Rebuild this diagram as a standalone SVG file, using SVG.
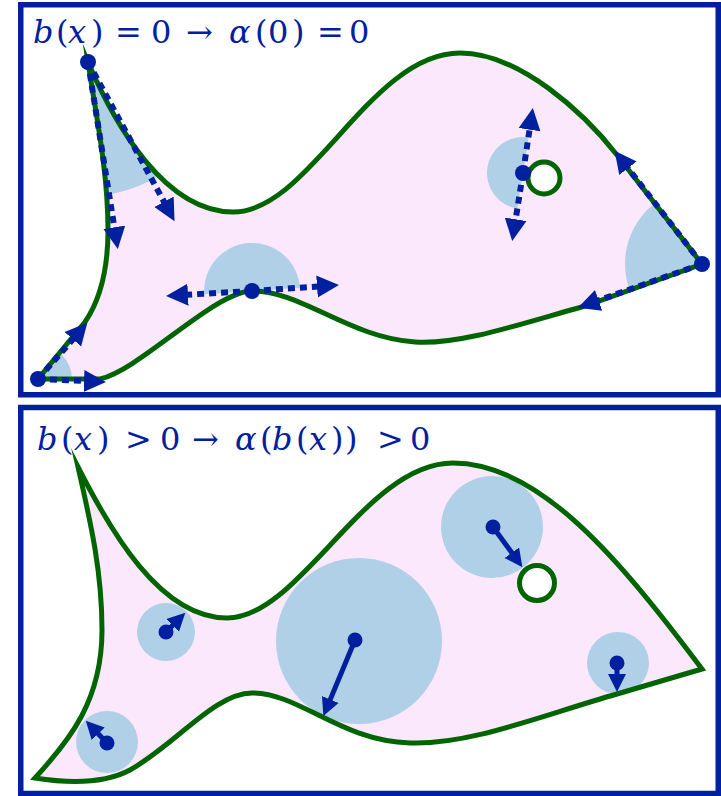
<svg xmlns="http://www.w3.org/2000/svg" width="721" height="796" viewBox="0 0 721 796">
<style>
.frame{fill:none;stroke:#0020A0;stroke-width:5.5}
.fish{fill:#FCE8FC;stroke:none}
.edge{fill:none;stroke:#006400;stroke-width:5;stroke-linejoin:miter;stroke-miterlimit:12}
.disc{fill:#B0D0E8}
.hole{fill:#ffffff;stroke:#006400;stroke-width:5}
.dot{fill:#0020A0}
.dash{fill:none;stroke:#0020A0;stroke-width:6;stroke-dasharray:7 5;marker-end:url(#hd)}
.solid{fill:none;stroke:#0020A0;stroke-width:5;marker-end:url(#hs)}
.t{font-family:"DejaVu Serif","Liberation Serif",serif;font-size:32px;fill:#0020A0}
.i{font-style:italic}
</style>
<defs>
<path id="fishA" d="M 88 62 C 115 125 165 212 233 212 C 310 212 370 53 460 53 C 520 53 585 114 617 155 L 702 264 L 585 306 C 520 324 460 345 415 342 C 350 338 300 290 252 291 C 215 291 140 370 100 379 L 38 379 L 85 322 C 100 300 108 270 108 230 C 108 170 95 110 88 62 Z"/>
<path id="fishB" d="M 78 467 C 110 530 160 618 227 618 C 300 618 365 463 453 463 C 540 463 620 560 702 669 L 617 694 C 540 716 470 745 410 743 C 340 741 300 693 252 693 C 215 693 175 745 130 770 C 100 786 60 782 35 778 C 70 740 102 700 102 630 C 102 570 90 520 78 467 Z"/>
<clipPath id="clipA"><use href="#fishA"/></clipPath>
<marker id="hd" markerUnits="userSpaceOnUse" markerWidth="24" markerHeight="24" viewBox="0 -12 24 24" refX="1" refY="0" orient="auto"><path d="M0,-11 L22,0 L0,11 Z" fill="#0020A0"/></marker>
<marker id="hs" markerUnits="userSpaceOnUse" markerWidth="20" markerHeight="20" viewBox="0 -10 20 20" refX="1" refY="0" orient="auto"><path d="M0,-9 L18,0 L0,9 Z" fill="#0020A0"/></marker>
</defs>
<rect x="0" y="0" width="721" height="796" fill="#ffffff"/>

<g id="panel-top">
<rect class="frame" x="20.75" y="4.75" width="697.5" height="390"/>
<text class="t" y="43"><tspan class="i" x="33">b</tspan><tspan x="56">(</tspan><tspan class="i" x="68">x</tspan><tspan x="91">)</tspan><tspan x="115">=</tspan><tspan x="151">0</tspan><tspan x="186">→</tspan><tspan class="i" x="229">α</tspan><tspan x="255">(</tspan><tspan x="268">0</tspan><tspan x="292">)</tspan><tspan x="317">=</tspan><tspan x="349">0</tspan></text>
<g id="fish-top">
<use href="#fishA" class="fish"/>
<g clip-path="url(#clipA)">
<circle class="disc" cx="88" cy="62" r="134"/>
<circle class="disc" cx="38" cy="379" r="34"/>
<circle class="disc" cx="702" cy="264" r="77"/>
</g>
<path class="disc" d="M 204.1 294.2 A 48 48 0 0 1 299.9 287.8 Z"/>
<path class="disc" d="M 528.6 137.4 A 36 36 0 0 0 517.4 208.6 Z"/>
<use href="#fishA" class="edge"/>
</g>
<g id="hole-top"><circle class="hole" cx="544" cy="178" r="16"/></g>
<g id="connectors-top">
<path class="dash" d="M 88 62 L 114.5 228.3"/>
<path class="dash" d="M 88 62 L 164.5 202.7"/>
<path class="dash" d="M 38 379 L 73.5 338.5"/>
<path class="dash" d="M 38 379 L 85 381"/>
<path class="dash" d="M 252 291 L 187 294.7"/>
<path class="dash" d="M 252 291 L 318 286.5"/>
<path class="dash" d="M 523 173 L 529.7 128.7"/>
<path class="dash" d="M 523 173 L 515.5 220.3"/>
<path class="dash" d="M 702 264 L 627.4 167.4"/>
<path class="dash" d="M 702 264 L 597.7 300.7"/>
</g>
<g id="point-tail-top"><circle class="dot" cx="88" cy="62" r="8"/></g>
<g id="point-tail-bottom"><circle class="dot" cx="38" cy="379" r="8"/></g>
<g id="point-belly"><circle class="dot" cx="252" cy="291" r="8"/></g>
<g id="point-hole"><circle class="dot" cx="523" cy="173" r="8"/></g>
<g id="point-nose"><circle class="dot" cx="702" cy="264" r="8"/></g>
</g>

<g id="panel-bottom">
<rect class="frame" x="20.75" y="407.5" width="697.5" height="386"/>
<text class="t" y="450"><tspan class="i" x="37">b</tspan><tspan x="61">(</tspan><tspan class="i" x="74">x</tspan><tspan x="97">)</tspan><tspan x="125">&gt;</tspan><tspan x="160">0</tspan><tspan x="192">→</tspan><tspan class="i" x="235">α</tspan><tspan x="260">(</tspan><tspan class="i" x="272">b</tspan><tspan x="296">(</tspan><tspan class="i" x="309">x</tspan><tspan x="331">)</tspan><tspan x="345">)</tspan><tspan x="377">&gt;</tspan><tspan x="410">0</tspan></text>
<g id="fish-bottom">
<use href="#fishB" class="fish"/>
<circle class="disc" cx="107" cy="742" r="31"/>
<circle class="disc" cx="166" cy="632" r="29"/>
<circle class="disc" cx="359" cy="641" r="83"/>
<circle class="disc" cx="492" cy="527" r="51"/>
<circle class="disc" cx="618" cy="663" r="31"/>
<use href="#fishB" class="edge"/>
</g>
<g id="hole-bottom"><circle class="hole" cx="537" cy="583" r="17.5"/></g>
<g id="connectors-bottom">
<path class="solid" d="M 107 743 L 97.5 733"/>
<path class="solid" d="M 166 632 L 173.3 624.7"/>
<path class="solid" d="M 355 640 L 329.9 700.4"/>
<path class="solid" d="M 493 527 L 512.4 553.5"/>
<path class="solid" d="M 617 663 L 617 675"/>
</g>
<g id="point-b1"><circle class="dot" cx="107" cy="743" r="7.5"/></g>
<g id="point-b2"><circle class="dot" cx="166" cy="632" r="7.5"/></g>
<g id="point-b3"><circle class="dot" cx="355" cy="640" r="7.5"/></g>
<g id="point-b4"><circle class="dot" cx="493" cy="527" r="7.5"/></g>
<g id="point-b5"><circle class="dot" cx="617" cy="663" r="7.5"/></g>
</g>
</svg>
